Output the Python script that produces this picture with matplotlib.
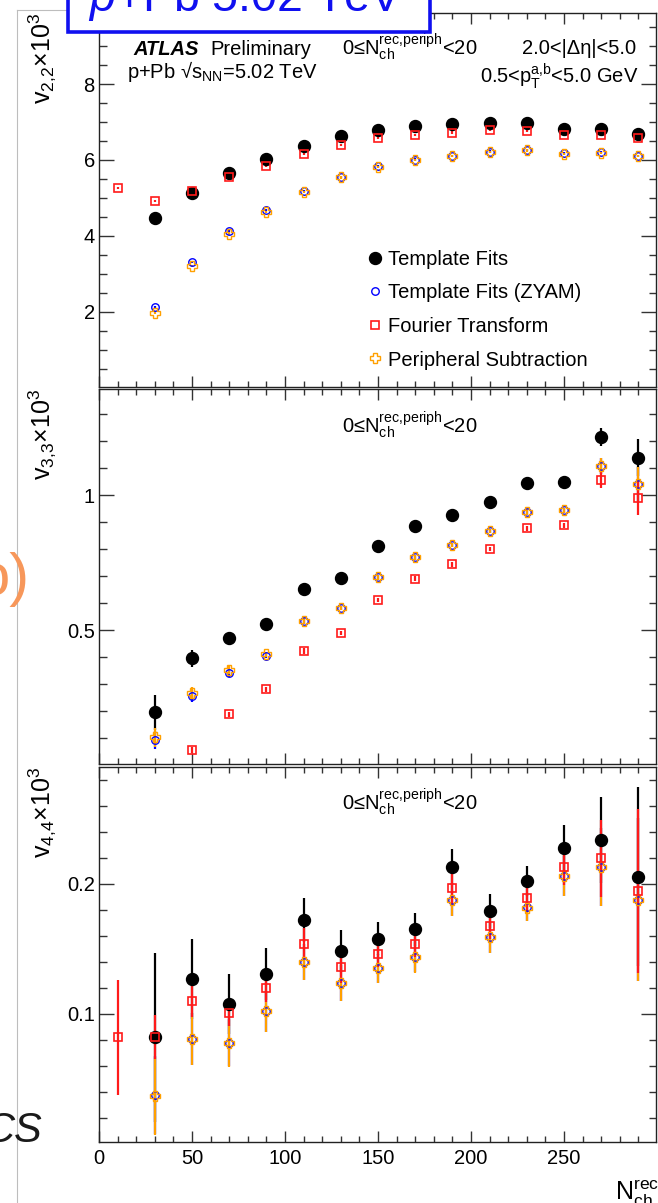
import numpy as np
import matplotlib
matplotlib.use("Agg")
import matplotlib.pyplot as plt
from matplotlib.lines import Line2D
from matplotlib.patches import Rectangle
from matplotlib.ticker import MultipleLocator, FixedLocator, FuncFormatter

plt.rcParams['font.family'] = 'Liberation Sans'
plt.rcParams['mathtext.fontset'] = 'custom'
plt.rcParams['mathtext.rm'] = 'Liberation Sans'
plt.rcParams['mathtext.it'] = 'Liberation Sans:italic'
plt.rcParams['mathtext.bf'] = 'Liberation Sans:bold'

nan = np.nan

# N_ch^rec bin centres
nch = [10, 30, 50, 70, 90, 110, 130, 150, 170, 190, 210, 230, 250, 270, 290]

# v2,2 x 10^3
v22_tf = [nan, 4.48, 5.13, 5.66, 6.03, 6.38, 6.63, 6.79, 6.89, 6.94, 6.98, 6.96, 6.81, 6.81, 6.68]
v22_zyam = [nan, 2.12, 3.32, 4.13, 4.69, 5.18, 5.55, 5.83, 6.01, 6.11, 6.22, 6.26, 6.17, 6.20, 6.11]
v22_ft = [5.27, 4.91, 5.19, 5.54, 5.84, 6.16, 6.40, 6.57, 6.66, 6.72, 6.79, 6.77, 6.65, 6.66, 6.57]
v22_ps = [nan, 1.98, 3.21, 4.06, 4.63, 5.15, 5.54, 5.82, 6.00, 6.10, 6.21, 6.25, 6.16, 6.19, 6.10]
v22_err = [0.03] * 15

# v3,3 x 10^3
v33_tf = [nan, 0.195, 0.395, 0.469, 0.522, 0.653, 0.694, 0.810, 0.885, 0.928, 0.974, 1.044, 1.047, 1.216, 1.138]
v33_tf_err = [nan, 0.064, 0.031, 0.012, 0.010, 0.010, 0.010, 0.010, 0.010, 0.010, 0.010, 0.012, 0.012, 0.034, 0.068]
v33_zyam = [nan, 0.093, 0.256, 0.342, 0.405, 0.533, 0.581, 0.695, 0.769, 0.815, 0.868, 0.938, 0.944, 1.107, 1.041]
v33_ps = [nan, 0.103, 0.266, 0.352, 0.410, 0.533, 0.581, 0.695, 0.769, 0.815, 0.868, 0.938, 0.944, 1.107, 1.041]
v33_ps_err = [nan, 0.035, 0.023, 0.015, 0.010, 0.010, 0.008, 0.008, 0.008, 0.008, 0.008, 0.010, 0.010, 0.030, 0.062]
v33_ft = [nan, nan, 0.056, 0.188, 0.280, 0.422, 0.488, 0.611, 0.691, 0.743, 0.801, 0.877, 0.888, 1.056, 0.990]
v33_ft_err = [nan, nan, 0.010, 0.010, 0.010, 0.010, 0.008, 0.008, 0.008, 0.008, 0.008, 0.010, 0.010, 0.028, 0.063]

# v4,4 x 10^3
v44_tf = [nan, 0.082, 0.127, 0.1075, 0.131, 0.172, 0.1485, 0.158, 0.165, 0.213, 0.179, 0.2023, 0.228, 0.2338, 0.2056]
v44_tf_err = [nan, 0.065, 0.031, 0.023, 0.020, 0.017, 0.016, 0.0125, 0.013, 0.014, 0.013, 0.0115, 0.017, 0.033, 0.069]
v44_zyam = [nan, 0.038, 0.081, 0.078, 0.102, 0.140, 0.124, 0.135, 0.144, 0.188, 0.159, 0.182, 0.206, 0.213, 0.188]
v44_ps = [nan, 0.037, 0.081, 0.0775, 0.102, 0.140, 0.124, 0.135, 0.1436, 0.188, 0.159, 0.1818, 0.2064, 0.2133, 0.188]
v44_ps_err = [nan, 0.030, 0.020, 0.018, 0.016, 0.014, 0.014, 0.011, 0.012, 0.013, 0.012, 0.0103, 0.0156, 0.030, 0.063]
v44_ft = [0.082, 0.082, 0.110, 0.1005, 0.120, 0.154, 0.136, 0.146, 0.1536, 0.1967, 0.1677, 0.1895, 0.2133, 0.2198, 0.1946]
v44_ft_err = [0.044, 0.017, 0.012, 0.010, 0.011, 0.012, 0.012, 0.010, 0.010, 0.012, 0.010, 0.010, 0.014, 0.0295, 0.063]

labels = ['Template Fits', 'Template Fits (ZYAM)', 'Fourier Transform', 'Peripheral Subtraction']

W, H = 658, 1203
BLUE, RED, ORANGE = '#0000ff', '#ff1a1a', '#ffa000'


def fx(x):
    return x / W


def fy(y):
    return 1 - y / H


fig = plt.figure(figsize=(W / 100, H / 100), dpi=100)
fig.patch.set_facecolor('white')

left, right = 99, 656
panels = [(13, 387), (389, 764), (767, 1142)]
axes = []
for top, bot in panels:
    ax = fig.add_axes([fx(left), fy(bot), fx(right - left), (bot - top) / H])
    axes.append(ax)


def style(ax, ylim, major, minor, xlabels):
    ax.set_xlim(0, 299.5)
    ax.set_ylim(*ylim)
    ax.xaxis.set_major_locator(MultipleLocator(50))
    ax.xaxis.set_minor_locator(MultipleLocator(10))
    ax.yaxis.set_major_locator(FixedLocator(major))
    ax.yaxis.set_minor_locator(MultipleLocator(minor))
    ax.yaxis.set_major_formatter(FuncFormatter(lambda v, p: '%g' % v))
    ax.tick_params(which='both', direction='in', top=True, right=True,
                   width=1.0, color='#333333', labelsize=14.5)
    ax.tick_params(axis='y', which='major', length=10.8, pad=3)
    ax.tick_params(axis='y', which='minor', length=5.4)
    ax.tick_params(axis='x', which='major', length=8, pad=5)
    ax.tick_params(axis='x', which='minor', length=4)
    if not xlabels:
        ax.tick_params(axis='x', labelbottom=False)
    for s in ax.spines.values():
        s.set_linewidth(1.0)
        s.set_color('#222222')


def draw(ax, tf, tf_e, zy, ps, ps_e, ft, ft_e):
    ax.errorbar(nch, tf, yerr=tf_e, fmt='o', color='black', ms=8.6, elinewidth=1.6, capsize=0)
    ax.errorbar(nch, zy, yerr=ps_e, fmt='o', color=BLUE, mfc='none', ms=5.4, mew=1.0,
                elinewidth=1.6, capsize=0)
    ax.errorbar(nch, ps, yerr=ps_e, fmt='P', color=ORANGE, mfc='none', ms=7, mew=1.0,
                elinewidth=1.6, capsize=0)
    ax.errorbar(nch, ft, yerr=ft_e, fmt='s', color=RED, mfc='none', ms=6, mew=1.2,
                elinewidth=1.6, capsize=0)


ax1, ax2, ax3 = axes
style(ax1, (0.02, 9.87), [2, 4, 6, 8], 0.5, False)
style(ax2, (0.004, 1.393), [0.5, 1.0], 0.1, False)
style(ax3, (0.0015, 0.29), [0.1, 0.2], 0.02, True)

draw(ax1, v22_tf, v22_err, v22_zyam, v22_ps, v22_err, v22_ft, v22_err)
draw(ax2, v33_tf, v33_tf_err, v33_zyam, v33_ps, v33_ps_err, v33_ft, v33_ft_err)
draw(ax3, v44_tf, v44_tf_err, v44_zyam, v44_ps, v44_ps_err, v44_ft, v44_ft_err)

# legend
handles = [
    Line2D([], [], ls='none', marker='o', color='black', ms=8.6),
    Line2D([], [], ls='none', marker='o', color=BLUE, mfc='none', ms=5.4, mew=1.0),
    Line2D([], [], ls='none', marker='s', color=RED, mfc='none', ms=6, mew=1.2),
    Line2D([], [], ls='none', marker='P', color=ORANGE, mfc='none', ms=7, mew=1.0),
]
ax1.legend(handles, labels, loc='upper left', bbox_to_anchor=(fx(367), fy(250)),
           bbox_transform=fig.transFigure, frameon=False, fontsize=14.5,
           handlelength=0.8, handletextpad=0.25, labelspacing=0.72, borderpad=0,
           borderaxespad=0)

# y axis titles
ylabels = [r'v$_{\mathrm{2{,}2}}$×10$^{3}$', r'v$_{\mathrm{3{,}3}}$×10$^{3}$',
           r'v$_{\mathrm{4{,}4}}$×10$^{3}$']
for (top, bot), lab in zip(panels, ylabels):
    fig.text(fx(50), fy(top), lab, rotation=90, rotation_mode='anchor',
             ha='right', va='baseline', fontsize=18)

fig.text(fx(615), fy(1200), r'N$_{\mathrm{ch}}^{\mathrm{rec}}$', fontsize=18, va='baseline')

# annotations
fs = 14.5
fig.text(fx(133), fy(55), 'ATLAS', fontsize=fs, weight='bold', style='italic', va='baseline')
fig.text(fx(210), fy(55), 'Preliminary', fontsize=fs, va='baseline')
fig.text(fx(127), fy(78), r'p+Pb √s$_{\mathrm{NN}}$=5.02 TeV', fontsize=fs, va='baseline')
fig.text(fx(636), fy(54), '2.0<|Δη|<5.0', fontsize=fs, ha='right', va='baseline')
fig.text(fx(638), fy(83), r'0.5<p$_{\mathrm{T}}^{\mathrm{a{,}b}}$<5.0 GeV', fontsize=fs,
         ha='right', va='baseline')
periph = r'0≤N$_{\mathrm{ch}}^{\mathrm{rec{,}periph}}$<20'
for yb in (55, 433, 810):
    fig.text(fx(342), fy(yb), periph, fontsize=fs, va='baseline')

# slide leftovers around the figure
fig.add_artist(Line2D([fx(16.5), fx(16.5)], [fy(10), fy(1203)], color='#bdbdbd',
                      lw=0.8, transform=fig.transFigure))
fig.add_artist(Line2D([fx(16.5), fx(70)], [fy(10), fy(10)], color='#bdbdbd',
                      lw=0.8, transform=fig.transFigure))
fig.add_artist(Rectangle((fx(68), fy(32)), fx(430 - 68), 50 / H, transform=fig.transFigure,
                         facecolor='white', edgecolor='#1010f0', lw=2.6, zorder=5))
fig.text(fx(88), fy(11), r'$\mathit{p}$+Pb 5.02 TeV', fontsize=33.5, color='#1010f0',
         va='baseline', zorder=6)
fig.text(fx(30), fy(595), 'o)', fontsize=43, color='#f7975a', ha='right', va='baseline')
fig.text(fx(42), fy(1142), 'CS', fontsize=30, color='#1a1a1a', style='italic',
         ha='right', va='baseline')

fig.savefig('out.png', dpi=100)
